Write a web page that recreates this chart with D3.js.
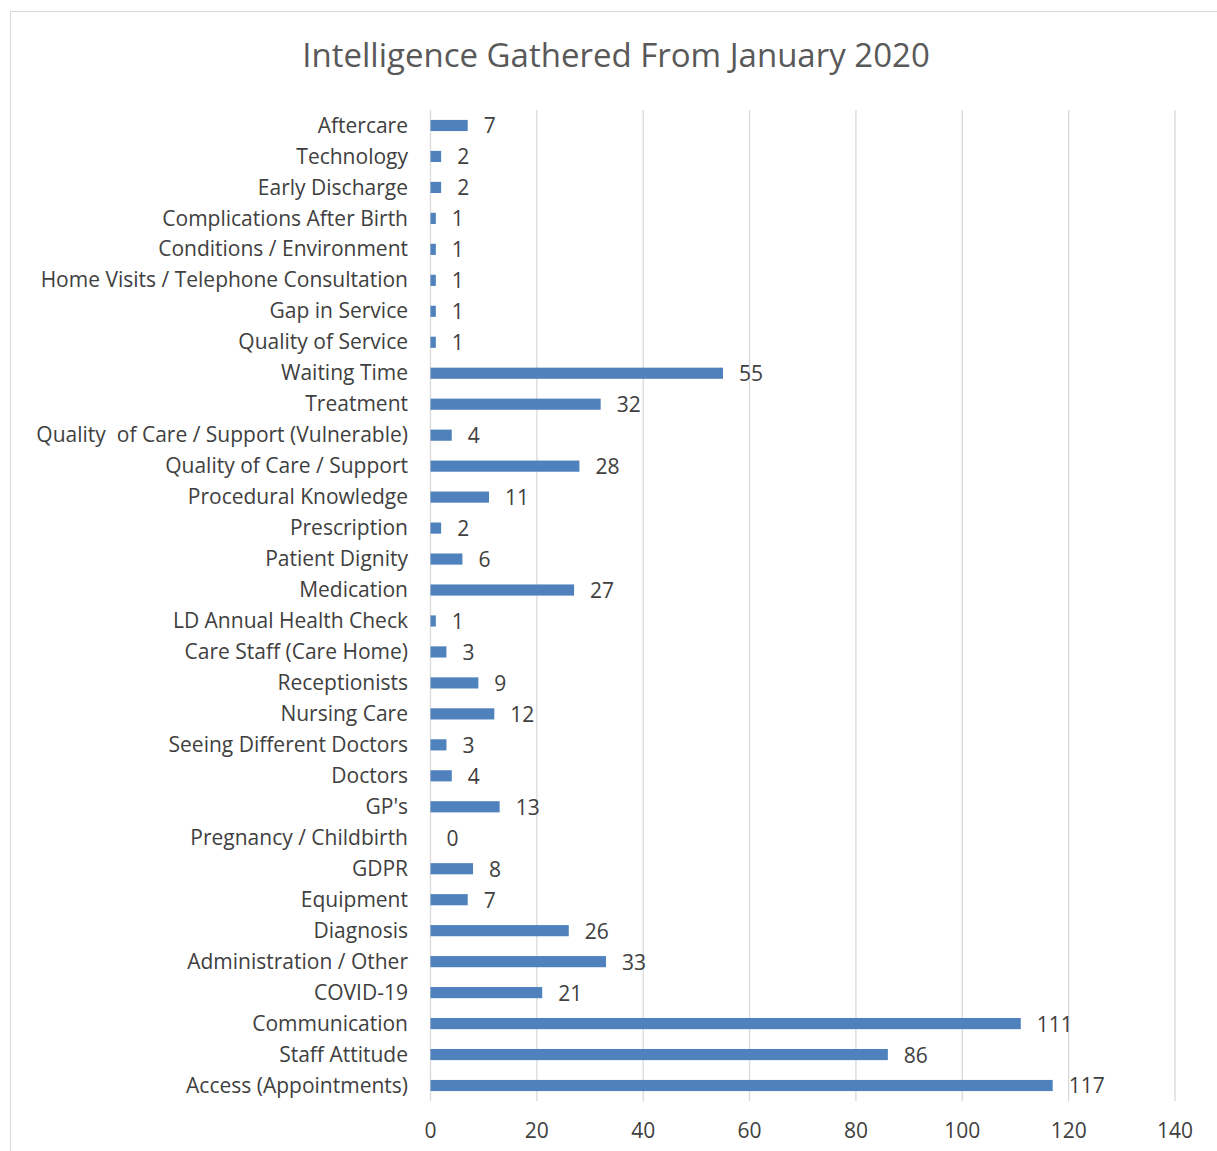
<!DOCTYPE html>
<html>
<head>
<meta charset="utf-8">
<script src="https://cdn.jsdelivr.net/npm/d3@7"></script>
<style>
  body { margin: 0; background: #fff; }
  text { font-family: "Open Sans", sans-serif; fill: #404040; }
</style>
</head>
<body>
<div id="svg"></div>
<script>
let w = 1217, h = 1151;

const categories = ["Aftercare", "Technology", "Early Discharge", "Complications After Birth",
  "Conditions / Environment", "Home Visits / Telephone Consultation", "Gap in Service",
  "Quality of Service", "Waiting Time", "Treatment", "Quality  of Care / Support (Vulnerable)",
  "Quality of Care / Support", "Procedural Knowledge", "Prescription", "Patient Dignity",
  "Medication", "LD Annual Health Check", "Care Staff (Care Home)", "Receptionists",
  "Nursing Care", "Seeing Different Doctors", "Doctors", "GP's", "Pregnancy / Childbirth",
  "GDPR", "Equipment", "Diagnosis", "Administration / Other", "COVID-19", "Communication",
  "Staff Attitude", "Access (Appointments)"];
const values = [7, 2, 2, 1, 1, 1, 1, 1, 55, 32, 4, 28, 11, 2, 6, 27, 1, 3, 9, 12, 3, 4, 13, 0,
  8, 7, 26, 33, 21, 111, 86, 117];
const ticks = [0, 20, 40, 60, 80, 100, 120, 140];

let svg = d3.select("#svg").append("svg")
    .attr("width", w)
    .attr("height", h);

// chart frame
svg.append("rect")
    .attr("x", 10.5).attr("y", 11.5)
    .attr("width", 1230).attr("height", 1160)
    .attr("fill", "none").attr("stroke", "#d9d9d9");

svg.append("text")
    .attr("x", 616).attr("y", 67)
    .attr("text-anchor", "middle")
    .style("font-size", "33px")
    .style("fill", "#595959")
    .text("Intelligence Gathered From January 2020");

let x = d3.scaleLinear().domain([0, 140]).range([430.5, 1175]);
let y = d3.scaleBand().domain(categories).range([110, 1101]).paddingInner(0.64).paddingOuter(0.32);

// gridlines
svg.append("g").selectAll("line")
    .data(ticks).enter().append("line")
    .attr("x1", d => x(d)).attr("x2", d => x(d))
    .attr("y1", 110).attr("y2", 1101)
    .attr("stroke", "#d9d9d9").attr("stroke-width", 1.3);

// x tick labels
svg.append("g").selectAll("text")
    .data(ticks).enter().append("text")
    .attr("x", d => x(d)).attr("y", 1138)
    .attr("text-anchor", "middle")
    .style("font-size", "21px")
    .text(d => d);

// bars
svg.append("g").selectAll("rect")
    .data(values).enter().append("rect")
    .attr("x", x(0))
    .attr("y", (d, i) => y(categories[i]))
    .attr("width", d => x(d) - x(0))
    .attr("height", y.bandwidth())
    .attr("fill", "#4f81bd");

// value labels
svg.append("g").selectAll("text")
    .data(values).enter().append("text")
    .attr("x", d => x(d) + 16)
    .attr("y", (d, i) => y(categories[i]) + y.bandwidth() / 2)
    .attr("dy", "0.38em")
    .style("font-size", "21px")
    .text(d => d);

// category labels
svg.append("g").selectAll("text")
    .data(categories).enter().append("text")
    .attr("x", 408)
    .attr("y", d => y(d) + y.bandwidth() / 2)
    .attr("dy", "0.34em")
    .attr("text-anchor", "end")
    .style("font-size", "21px")
    .style("white-space", "pre")
    .text(d => d);
</script>
</body>
</html>
